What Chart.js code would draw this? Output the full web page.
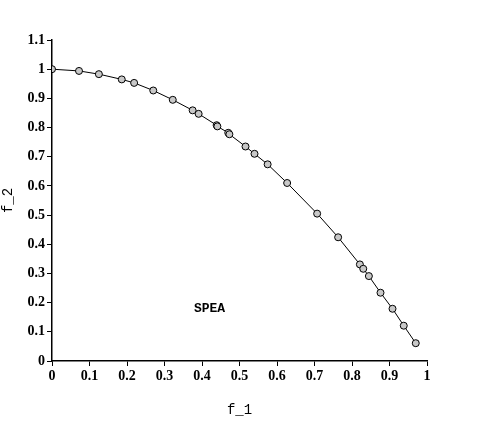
<!DOCTYPE html>
<html>
<head>
<script src="https://cdn.jsdelivr.net/npm/chart.js@4"></script>
<style>
  body { margin: 0; background: #fff; }
  #wrap { width: 479px; height: 423px; }
</style>
</head>
<body>
<div id="wrap"><canvas id="c"></canvas></div>
<script>
let f1 = [0, .072, .125, .186, .219, .270, .322, .375, .391, .439, .441, .470, .473, .516, .540, .575, .627, .707, .763, .821, .830, .845, .876, .908, .938, .970];
let f2 = [1.0, .994, .983, .965, .953, .927, .895, .859, .847, .808, .804, .782, .777, .735, .710, .674, .610, .505, .424, .331, .316, .291, .234, .179, .121, .061];
let xTicks = [0, .1, .2, .3, .4, .5, .6, .7, .8, .9, 1];
let yTicks = [0, .1, .2, .3, .4, .5, .6, .7, .8, .9, 1, 1.1];

let points = f1.map((x, i) => ({ x: x, y: f2[i] }));
let tickFont = { family: "Liberation Serif", size: 14, weight: "bold" };
let titleFont = { family: "Liberation Mono", size: 14 };

let label = {
    id: "label",
    afterDraw(chart) {
        let ctx = chart.ctx;
        let x = chart.scales.x.getPixelForValue(0.42);
        let y = chart.scales.y.getPixelForValue(0.18);
        ctx.save();
        ctx.font = "bold 13px 'Liberation Mono'";
        ctx.fillStyle = "#000";
        ctx.textAlign = "center";
        ctx.textBaseline = "middle";
        ctx.fillText("SPEA", x, y);
        ctx.restore();
    }
};

new Chart(document.getElementById("c"), {
    type: "scatter",
    data: {
        datasets: [{
            data: points,
            showLine: true,
            borderColor: "#000",
            borderWidth: 1,
            pointRadius: 3.5,
            pointBackgroundColor: "#c8c8c8",
            pointBorderColor: "#000",
            pointBorderWidth: 1
        }]
    },
    options: {
        responsive: true,
        maintainAspectRatio: false,
        animation: false,
        layout: { padding: { top: 40, right: 52 } },
        plugins: { legend: { display: false }, tooltip: { enabled: false } },
        scales: {
            x: {
                type: "linear", min: 0, max: 1,
                afterBuildTicks: s => { s.ticks = xTicks.map(v => ({ value: v })); },
                afterFit: s => { s.height = 62; },
                ticks: { font: tickFont, color: "#000", padding: 2, callback: v => String(v) },
                grid: { drawOnChartArea: false, color: "#000", tickLength: 5 },
                border: { color: "#000", width: 1.5 },
                title: { display: true, text: "f_1", font: titleFont, color: "#000", padding: 4 }
            },
            y: {
                type: "linear", min: 0, max: 1.1,
                afterBuildTicks: s => { s.ticks = yTicks.map(v => ({ value: v })); },
                afterFit: s => { s.width = 52; },
                ticks: { font: tickFont, color: "#000", padding: 2, callback: v => String(Math.round(v * 10) / 10) },
                grid: { drawOnChartArea: false, color: "#000", tickLength: 5 },
                border: { color: "#000", width: 1.5 },
                title: { display: true, text: "f_2", font: titleFont, color: "#000", padding: 0 }
            }
        }
    },
    plugins: [label]
});
</script>
</body>
</html>
